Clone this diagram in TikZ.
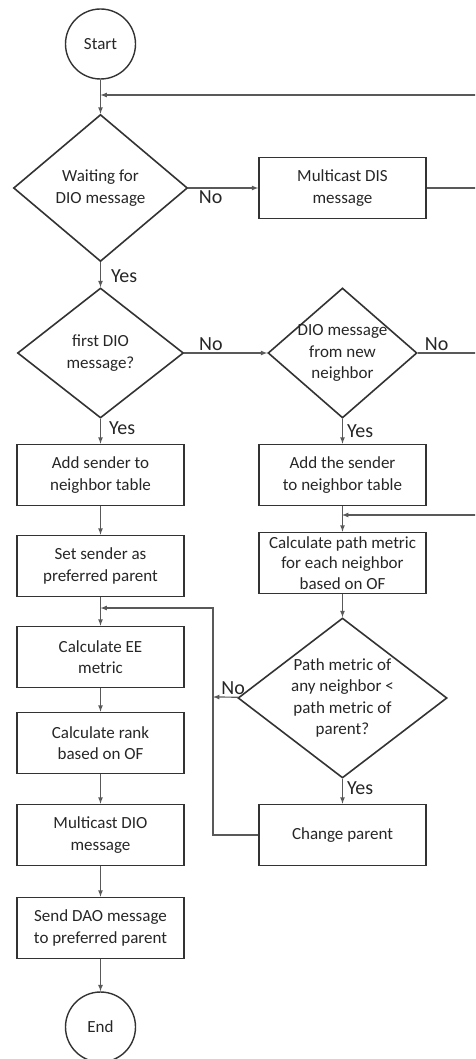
\documentclass[tikz,border=0pt]{standalone}
\usepackage{fontspec}
\setmainfont{Carlito}
\usetikzlibrary{shapes.geometric, arrows}
\newcommand{\boxfont}{\fontsize{17}{21.5}\selectfont}
\newcommand{\tagfont}{\fontsize{20}{24}\selectfont}
\tikzstyle{startstop} = [circle, 
minimum size=70pt, 
inner sep=0pt, 
text centered, 
draw=black!80, 
line width=1.4pt, 
font=\boxfont, 
text=black!85]
\tikzstyle{process} = [rectangle, 
minimum width=167pt, 
minimum height=61pt, 
inner sep=1pt, 
align=center, 
draw=black!80, 
line width=1.6pt, 
font=\boxfont, 
text=black!85]
\tikzstyle{decision} = [diamond, 
inner sep=-4pt, 
align=center, 
draw=black!80, 
line width=1.6pt, 
font=\boxfont, 
text=black!85]
\tikzstyle{arrow} = [line width=1.2pt,draw=black!65,->,>=latex]
\tikzstyle{tag} = [font=\tagfont, text=black!85, inner sep=2pt]

\begin{document}
\begin{tikzpicture}[x=1pt, y=1pt, node distance=91pt]
\useasboundingbox (0,0) rectangle (475,-1059);
\clip (0,0) rectangle (475,-1059);

% Nodes
\node (start) [startstop] at (100.5,-44) {Start};
\node (wait) [decision, below of=start, yshift=-53pt, aspect=1.18, minimum width=174pt, minimum height=147pt] {Waiting for\\DIO message};
\node (dis) [process, right of=wait, xshift=151pt] {Multicast DIS\\message};
\node (first) [decision, below of=wait, yshift=-74pt, aspect=1.28, minimum width=166pt, minimum height=130pt] {first DIO\\message?};
\node (newnb) [decision, right of=first, xshift=151pt, aspect=1.15, minimum width=149pt, minimum height=130pt] {DIO message\\from new\\neighbor};
\node (addl) [process, below of=first, yshift=-31pt] {Add sender to\\neighbor table};
\node (addr) [process, below of=newnb, yshift=-31pt] {Add the sender\\to neighbor table};
\node (setpar) [process, below of=addl] {Set sender as\\preferred parent};
\node (calcpm) [process, below of=addr, yshift=3pt, font=\fontsize{17}{20.5}\selectfont] {Calculate path metric\\for each neighbor\\based on OF};
\node (calcee) [process, below of=setpar] {Calculate EE\\metric};
\node (better) [decision, below of=calcpm, yshift=-44pt, aspect=1.31, minimum width=209pt, minimum height=160pt] {Path metric of\\any neighbor <\\path metric of\\parent?};
\node (rank) [process, below of=calcee, yshift=5pt] {Calculate rank\\based on OF};
\node (chpar) [process, below of=better, yshift=-46pt] {Change parent};
\node (mdio) [process, below of=rank, yshift=-1pt] {Multicast DIO\\message};
\node (dao) [process, below of=mdio, yshift=-2pt] {Send DAO message\\to preferred parent};
\node (stop) [startstop, below of=dao, yshift=-8pt] {End};

\coordinate (joina) at (100.5,-95);
\coordinate (loopa) at (490,-95);
\coordinate (joinb) at (342,-515);
\coordinate (loopb) at (490,-515);
\coordinate (joinc) at (100.5,-608);
\coordinate (backc) at (213,-697);

% Arrows
\draw [arrow] (start) -- (wait);
\draw [arrow] (wait) -- node[tag, below, pos=0.32] {No} (dis);
\draw [arrow] (dis.east) -| (loopa) -- (joina);
\draw [arrow] (wait) -- node[tag, right, pos=0.54, xshift=8pt] {Yes} (first);
\draw [arrow] (first) -- node[tag, above, pos=0.32] {No} (newnb);
\draw [arrow] (newnb.east) -| node[tag, above, pos=0.13] {No} (loopb) -- (joinb);
\draw [arrow] (first) -- node[tag, right, pos=0.37, xshift=6pt] {Yes} (addl);
\draw [arrow] (newnb) -- node[tag, right, pos=0.5, xshift=2pt] {Yes} (addr);
\draw [arrow] (addl) -- (setpar);
\draw [arrow] (setpar) -- (calcee);
\draw [arrow] (calcee) -- (rank);
\draw [arrow] (rank) -- (mdio);
\draw [arrow] (mdio) -- (dao);
\draw [arrow] (dao) -- (stop);
\draw [arrow] (addr) -- (calcpm);
\draw [arrow] (calcpm) -- (better);
\draw [arrow] (better) -- node[tag, above, pos=0.2] {No} (backc);
\draw [arrow] (better) -- node[tag, right, pos=0.38, xshift=2pt] {Yes} (chpar);
\draw [arrow] (chpar) -| (backc) |- (joinc);

\end{tikzpicture}
\end{document}
